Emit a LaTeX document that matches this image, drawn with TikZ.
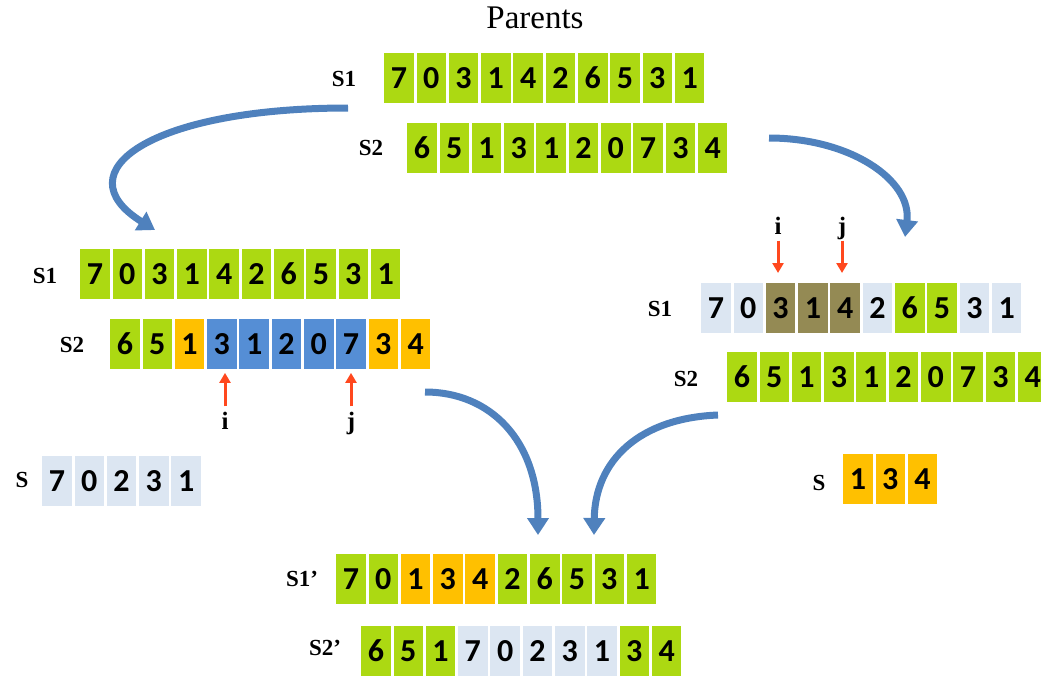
\documentclass[tikz,border=0pt]{standalone}
\usepackage{fontspec}
\setmainfont{Liberation Serif}
\newfontfamily\digitfont{Carlito}
\usepackage{tikz}
\usetikzlibrary{positioning}
\usetikzlibrary{arrows.meta}
\usetikzlibrary{calc}
\definecolor{limeg}{RGB}{172,217,18}
\definecolor{amber}{RGB}{255,192,0}
\definecolor{skyb}{RGB}{85,142,213}
\definecolor{pale}{RGB}{220,230,242}
\definecolor{khaki}{RGB}{148,138,84}
\definecolor{flowblue}{RGB}{79,129,189}
\definecolor{ptrred}{RGB}{255,72,30}
\tikzset{cell/.style={rectangle, inner sep=0pt, minimum width=29.5pt,
minimum height=49.5pt, font=\digitfont\bfseries\fontsize{32}{32}\selectfont},
g/.style={cell,fill=limeg},
a/.style={cell,fill=amber},
b/.style={cell,fill=skyb},
p/.style={cell,fill=pale},
k/.style={cell,fill=khaki},
seqname/.style={inner sep=1pt, font=\bfseries\fontsize{23}{23}\selectfont},
idx/.style={inner sep=1pt, text height=16pt, text depth=5pt,
font=\bfseries\fontsize{25}{25}\selectfont},
flow/.style={draw=flowblue, line width=7pt, -{Triangle[length=17pt,width=21pt]}},
ptr/.style={draw=ptrred, line width=3pt, -{Triangle[length=10pt,width=11pt]}}}
% one row of cells: name, left x, top y, digit/style list
\newcommand{\cellrow}[4]{%
  \foreach \d/\s [count=\k from 0] in {#4}
    \node [\s, anchor=north west] (#1-\k) at ({#2+32.3*\k},#3) {\d};
}

\begin{document}
\begin{tikzpicture}[x=1pt,y=-1pt]
  \useasboundingbox (0,0) rectangle (1041,675);
  \node (title) [font=\fontsize{33}{33}\selectfont] at (535,18) {Parents};
  % parents
  \cellrow{ps1}{384}{53}{7/g,0/g,3/g,1/g,4/g,2/g,6/g,5/g,3/g,1/g}
  \cellrow{ps2}{407}{123}{6/g,5/g,1/g,3/g,1/g,2/g,0/g,7/g,3/g,4/g}
  \node (nps1) [seqname] at (344,79) {S1};
  \node (nps2) [seqname] at (371,148) {S2};
  % left branch
  \cellrow{ls1}{80}{249}{7/g,0/g,3/g,1/g,4/g,2/g,6/g,5/g,3/g,1/g}
  \cellrow{ls2}{110}{319}{6/g,5/g,1/a,3/b,1/b,2/b,0/b,7/b,3/a,4/a}
  \cellrow{ls}{42}{456}{7/p,0/p,2/p,3/p,1/p}
  \node (nls1) [seqname] at (45,276) {S1};
  \node (nls2) [seqname] at (72,345) {S2};
  \node (nls) [seqname] at (22,480) {S};
  \node (li) [idx] at (225,424) {i};
  \node (lj) [idx] at (351,424) {j};
  \draw [ptr, shorten <=6pt, shorten >=4pt] (li.north) -- (li.north |- ls2-3.south);
  \draw [ptr, shorten <=6pt, shorten >=4pt] (lj.north) -- (lj.north |- ls2-7.south);
  % right branch
  \cellrow{rs1}{701}{283}{7/p,0/p,3/k,1/k,4/k,2/p,6/g,5/g,3/p,1/p}
  \cellrow{rs2}{727}{352}{6/g,5/g,1/g,3/g,1/g,2/g,0/g,7/g,3/g,4/g}
  \cellrow{rs}{843}{454}{1/a,3/a,4/a}
  \node (nrs1) [seqname] at (660,309) {S1};
  \node (nrs2) [seqname] at (686,379) {S2};
  \node (nrs) [seqname] at (819,483) {S};
  \node (ri) [idx] at (778,229) {i};
  \node (rj) [idx] at (842,229) {j};
  \draw [ptr, shorten <=0pt, shorten >=10pt] (ri.south) -- (ri.south |- rs1-2.north);
  \draw [ptr, shorten <=0pt, shorten >=10pt] (rj.south) -- (rj.south |- rs1-4.north);
  % children
  \cellrow{cs1}{336}{554}{7/g,0/g,1/a,3/a,4/a,2/g,6/g,5/g,3/g,1/g}
  \cellrow{cs2}{361}{626}{6/g,5/g,1/g,7/p,0/p,2/p,3/p,1/p,3/g,4/g}
  \node (ncs1) [seqname] at (302,579) {S1’};
  \node (ncs2) [seqname] at (325,648) {S2’};
  % flow arrows
  \coordinate (f1s) at (348,108);
  \coordinate (f1e) at (155,230);
  \coordinate (f2s) at (769,138);
  \coordinate (f2e) at (905,237);
  \coordinate (f3s) at (425,392);
  \coordinate (f3e) at (538,535);
  \coordinate (f4s) at (718,415);
  \coordinate (f4e) at (594,535);
  \draw [flow] (f1s) .. controls (150,108) and (62,172) .. (f1e);
  \draw [flow] (f2s) .. controls (850,138) and (912,180) .. (f2e);
  \draw [flow] (f3s) .. controls (490,392) and (538,440) .. (f3e);
  \draw [flow] (f4s) .. controls (640,418) and (595,460) .. (f4e);
\end{tikzpicture}
\end{document}
